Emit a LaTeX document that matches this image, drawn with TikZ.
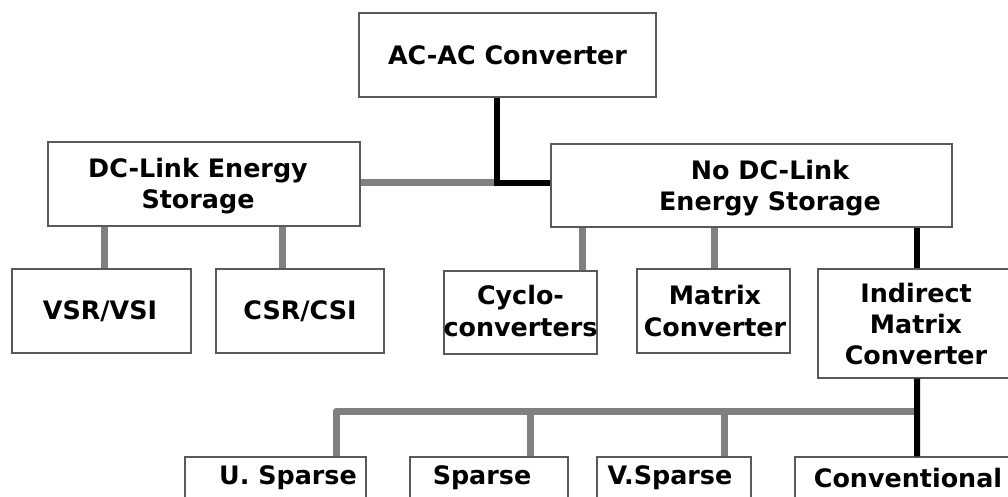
\documentclass[tikz,border=0pt]{standalone}
\usepackage{fontspec}
\setmainfont{DejaVu Sans}
\begin{document}
\begin{tikzpicture}[x=1bp,y=-1bp,
  box/.style={draw=black!65,line width=1.1bp,fill=white,inner sep=0pt},
  txt/.style={font=\bfseries\fontsize{25.5}{31.5}\selectfont,align=center,inner sep=0pt},
  blk/.style={line width=6bp,black},
  gry/.style={line width=7bp,black!50}]
\useasboundingbox (0,0) rectangle (1008,497);
\clip (0,0) rectangle (1008,497);
% boxes
\node[box,minimum width=297bp,minimum height=84bp] (ac) at (507.5,55) {};
\node[box,minimum width=312bp,minimum height=84bp] (dc) at (204,184) {};
\node[box,minimum width=401bp,minimum height=83bp] (nodc) at (751.5,185.5) {};
\node[box,minimum width=179bp,minimum height=84bp] (vsr) at (101.5,311) {};
\node[box,minimum width=168bp,minimum height=84bp] (csr) at (300,311) {};
\node[box,minimum width=153bp,minimum height=83bp] (cyc) at (520.5,312.5) {};
\node[box,minimum width=153bp,minimum height=84bp] (mat) at (713.5,311) {};
\node[box,minimum width=198bp,minimum height=109bp] (imc) at (917,323.5) {};
\node[box,minimum width=181bp,minimum height=84bp] (us) at (275.5,499) {};
\node[box,minimum width=158bp,minimum height=84bp] (sp) at (489,499) {};
\node[box,minimum width=154bp,minimum height=84bp] (vs) at (674,499) {};
\node[box,minimum width=226bp,minimum height=84bp] (cv) at (908,499) {};
% texts
\node[txt] (tac) at (507.5,55) {AC-AC Converter};
\node[txt] (tdc) at (198,186) {DC-Link Energy\\Storage};
\node[txt] (tnodc) at (770,188) {No DC-Link\\Energy Storage};
\node[txt] (tvsr) at (100,311) {VSR/VSI};
\node[txt] (tcsr) at (300,311) {CSR/CSI};
\node[txt] (tcyc) at (520.5,311) {Cyclo-\\converters};
\node[txt] (tmat) at (715,311) {Matrix\\Converter};
\node[txt] (timc) at (916,324) {Indirect\\Matrix\\Converter};
\node[txt] (tus) at (288,478) {U. Sparse};
\node[txt] (tsp) at (482,478) {Sparse};
\node[txt] (tvs) at (670,478) {V.Sparse};
\node[txt] (tcv) at (908,478) {Conventional};
% connectors
\coordinate (j1) at (497,183);
\coordinate (bus) at (917,411);
\draw[gry] (dc.east |- j1) -- (j1);
\draw[blk] (ac.south -| j1) -- (j1) -- (j1 -| nodc.west);
\draw[gry] ([xshift=2.5bp]vsr.north) -- ([xshift=2.5bp]vsr.north |- dc.south);
\draw[gry] ([xshift=-18bp]csr.north) -- ([xshift=-18bp]csr.north |- dc.south);
\draw[gry] ([xshift=61.5bp]cyc.north) -- ([xshift=61.5bp]cyc.north |- nodc.south);
\draw[gry] ([xshift=0.5bp]mat.north) -- ([xshift=0.5bp]mat.north |- nodc.south);
\draw[gry,line join=round] ([xshift=60.5bp]us.north) |- (bus);
\draw[gry] ([xshift=41bp]sp.north) -- ([xshift=41bp]sp.north |- bus);
\draw[gry] ([xshift=50bp]vs.north) -- ([xshift=50bp]vs.north |- bus);
\draw[blk] (imc.north) -- (imc.north |- nodc.south);
\draw[blk] (imc.south) -- ([xshift=9bp]cv.north);
\end{tikzpicture}
\end{document}
